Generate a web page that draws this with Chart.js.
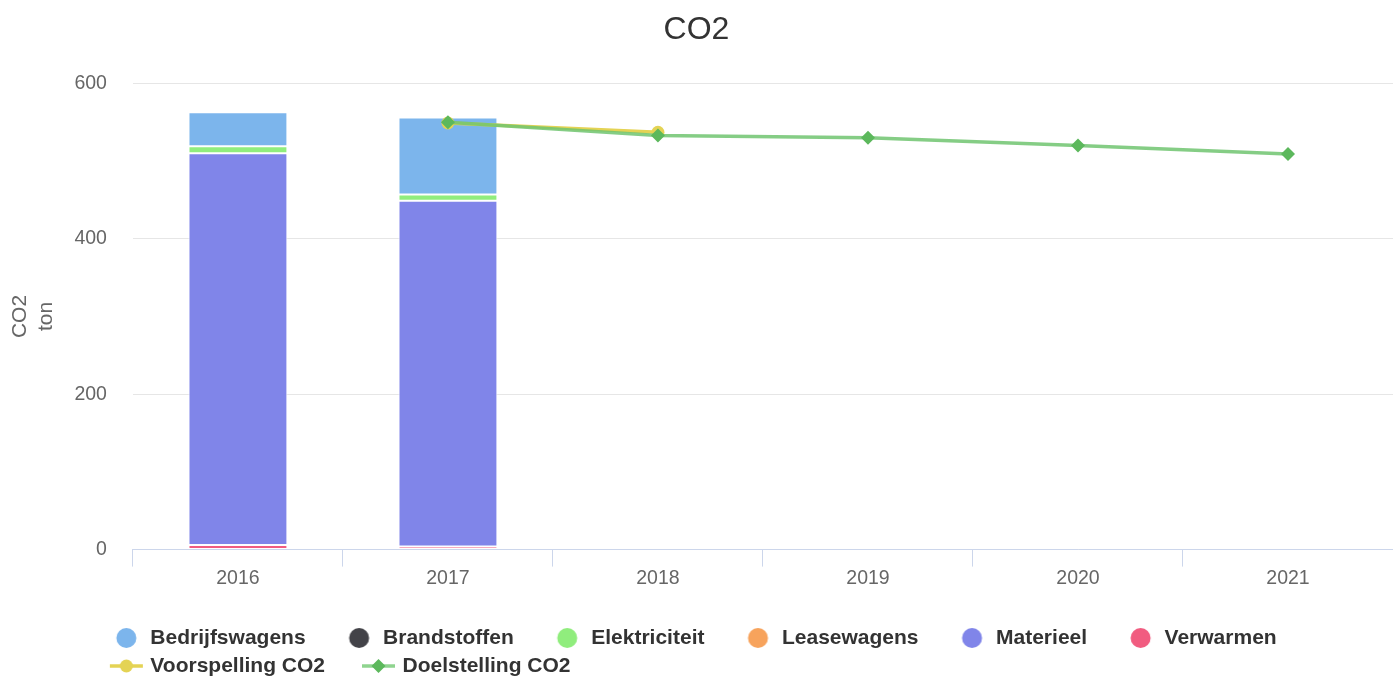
<!DOCTYPE html>
<html lang="nl">
<head>
<meta charset="UTF-8" />
<title>CO2</title>
<script src="https://cdn.jsdelivr.net/npm/chart.js@4.4.1/dist/chart.umd.min.js"></script>
<style>
  html, body { margin: 0; padding: 0; background: #fff; }
  #wrap { width: 1393px; height: 678px; }
</style>
</head>
<body>
<div id="wrap"><canvas id="co2Chart"></canvas></div>
<script>
// data (ton CO2)
const years = ["2016", "2017", "2018", "2019", "2020", "2021"];
const bedrijfswagens = [44, 99, null, null, null, null];
const brandstoffen = [0, 0, null, null, null, null];
const elektriciteit = [9, 8, null, null, null, null];
const leasewagens = [0, 0, null, null, null, null];
const materieel = [504, 445, null, null, null, null];
const verwarmen = [6, 4, null, null, null, null];
const voorspelling = [null, 549, 537, null, null, null];
const doelstelling = [null, 550, 533, 530, 520, 509];
const yTicks = [0, 200, 400, 600];

const FONT = '"Liberation Sans", Arial, Helvetica, sans-serif';

// legend symbol: transparent left part, symbol near the right so spacing matches
function legendSymbol(kind, color, markColor) {
  const c = document.createElement("canvas");
  c.width = 100;
  c.height = 24;
  const g = c.getContext("2d");
  const cx = 66.5, cy = 12;
  if (kind === "bar") {
    g.fillStyle = color;
    g.beginPath();
    g.arc(cx, cy, 10, 0, Math.PI * 2);
    g.fill();
  } else {
    g.strokeStyle = color;
    g.lineWidth = 3.5;
    g.beginPath();
    g.moveTo(cx - 16.5, cy);
    g.lineTo(cx + 16.5, cy);
    g.stroke();
    g.fillStyle = markColor;
    g.beginPath();
    if (kind === "circle") {
      g.arc(cx, cy, 6.5, 0, Math.PI * 2);
    } else {
      g.moveTo(cx, cy - 7);
      g.lineTo(cx + 7, cy);
      g.lineTo(cx, cy + 7);
      g.lineTo(cx - 7, cy);
      g.closePath();
    }
    g.fill();
  }
  return c;
}

// bars stack bottom-up in "order"; Verwarmen lowest, Bedrijfswagens on top
function barSet(label, data, color, order) {
  return {
    label: label,
    data: data,
    stack: "co2",
    backgroundColor: color,
    borderColor: "#ffffff",
    borderWidth: 1,
    borderSkipped: false,
    barPercentage: 0.471,
    categoryPercentage: 1,
    order: order
  };
}

const datasets = [
  barSet("Bedrijfswagens", bedrijfswagens, "#7cb5ec", 7),
  barSet("Brandstoffen", brandstoffen, "#434348", 6),
  barSet("Elektriciteit", elektriciteit, "#90ed7d", 5),
  barSet("Leasewagens", leasewagens, "#f7a35c", 4),
  barSet("Materieel", materieel, "#8085e9", 3),
  barSet("Verwarmen", verwarmen, "#f15c80", 2),
  {
    type: "line",
    label: "Voorspelling CO2",
    data: voorspelling,
    stack: "voorspelling",
    borderColor: "#e4d354",
    backgroundColor: "#e4d354",
    borderWidth: 3.5,
    pointRadius: 6.5,
    pointBorderWidth: 0,
    pointBackgroundColor: "#e4d354",
    tension: 0,
    order: 1
  },
  {
    type: "line",
    label: "Doelstelling CO2",
    data: doelstelling,
    stack: "doelstelling",
    borderColor: "rgba(112, 196, 112, 0.85)",
    backgroundColor: "#5cb85c",
    borderWidth: 3.5,
    pointStyle: "rectRot",
    pointRadius: 7,
    pointBorderWidth: 0,
    pointBackgroundColor: "#5cb85c",
    tension: 0,
    order: 0
  }
];

const symbols = [
  legendSymbol("bar", "#7cb5ec"),
  legendSymbol("bar", "#434348"),
  legendSymbol("bar", "#90ed7d"),
  legendSymbol("bar", "#f7a35c"),
  legendSymbol("bar", "#8085e9"),
  legendSymbol("bar", "#f15c80"),
  legendSymbol("circle", "#e4d354", "#e4d354"),
  legendSymbol("diamond", "#8fd48f", "#5cb85c")
];

// legend: first row centred, second row starts under the first
const legendShift = {
  id: "legendShift",
  afterLayout(chart) {
    const lg = chart.legend;
    if (!lg || !lg.lineWidths) return;
    const pad = lg.options.labels.padding;
    const lead = 36.5;
    const visible = lg.lineWidths[0] - lead - pad;
    const boxX = (chart.width - visible) / 2 - lead;
    lg.left = boxX - pad;
    lg.top += 8.5;
  }
};

new Chart("co2Chart", {
  type: "bar",
  data: { labels: years, datasets: datasets },
  plugins: [legendShift],
  options: {
    responsive: true,
    maintainAspectRatio: false,
    animation: false,
    events: [],
    layout: { padding: 0, autoPadding: false },
    plugins: {
      title: {
        display: true,
        text: "CO2",
        color: "#333333",
        font: { family: FONT, size: 32, weight: "normal" },
        padding: { top: 11, bottom: 34 }
      },
      legend: {
        position: "bottom",
        align: "start",
        labels: {
          usePointStyle: true,
          pointStyleWidth: 60,
          boxHeight: 21,
          padding: 7,
          color: "#333333",
          font: { family: FONT, size: 21, weight: "bold" },
          sort: (a, b) => a.datasetIndex - b.datasetIndex,
          generateLabels(chart) {
            const items = Chart.defaults.plugins.legend.labels.generateLabels(chart);
            items.forEach((it) => { it.pointStyle = symbols[it.datasetIndex]; });
            return items;
          }
        }
      },
      tooltip: { enabled: false }
    },
    scales: {
      x: {
        grid: {
          offset: true,
          drawOnChartArea: false,
          drawTicks: true,
          tickLength: 17,
          color: "#ccd6eb"
        },
        border: { display: true, color: "#ccd6eb", width: 1 },
        ticks: {
          color: "#666666",
          font: { family: FONT, size: 19.5 },
          padding: 0,
          maxRotation: 0
        },
        afterFit(scale) { scale.height += 22; }
      },
      y: {
        stacked: true,
        min: 0,
        max: 600,
        afterBuildTicks(scale) { scale.ticks = yTicks.map((v) => ({ value: v })); },
        grid: { color: "#e6e6e6", drawTicks: false },
        border: { display: false },
        ticks: {
          color: "#666666",
          font: { family: FONT, size: 19.5 },
          padding: 26
        },
        title: {
          display: true,
          text: ["CO2", "ton"],
          color: "#666666",
          font: { family: FONT, size: 21, lineHeight: 1.2 },
          padding: { top: 8, bottom: 14 }
        },
        afterFit(scale) { scale.width -= 24; }
      }
    }
  }
});
</script>
</body>
</html>
